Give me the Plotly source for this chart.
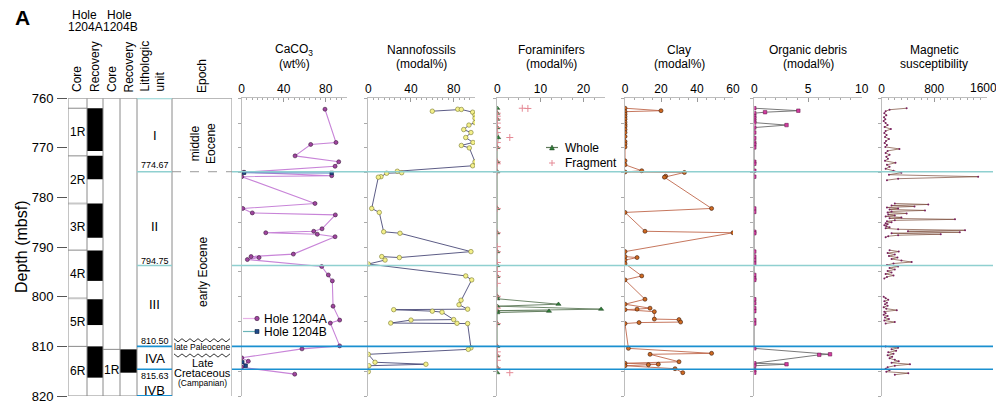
import plotly.graph_objects as go

W, H = 1004, 409
YTOP_PX, YBOT_PX = 98.3, 396.0

def px(x):
    return x / W

def py(y):
    return 1 - y / H

# ---------------- data ----------------
depth_range = [820, 760]

# Core / recovery (Hole 1204A)
core_a_names = ["1R", "2R", "3R", "4R", "5R", "6R"]
core_a_top = [762.0, 771.6, 781.2, 790.6, 800.3, 810.0]
core_a_bot = [771.6, 781.2, 790.6, 800.3, 810.0, 820.0]
rec_a_top = [762.0, 771.6, 781.2, 790.7, 800.5, 810.0]
rec_a_bot = [770.6, 776.3, 788.1, 796.8, 805.7, 816.3]
# Hole 1204B
core_b_names = ["1R"]
core_b_top = [810.6]
core_b_bot = [820.0]
rec_b_top = [810.6]
rec_b_bot = [815.3]

# Lithologic units
unit_names = ["I", "II", "III", "IVA", "IVB"]
unit_label_depth = [767.4, 785.9, 801.5, 812.4, 818.8]
boundary_labels = ["774.67", "794.75", "810.50", "815.63"]
boundary_depth = [774.8, 793.7, 810.0, 814.6]
boundary_label_depth = [773.5, 792.7, 808.9, 815.9]
boundary_colors = ["#8fd0d0", "#8fd0d0", "#1a90d0", "#1a90d0"]

# CaCO3 (wt%)
caco3_a_depth = [762.2, 768.9, 769.3, 771.6, 772.8, 773.7, 774.9, 775.6, 775.8, 781.2,
                 782.2, 783.1, 783.5, 786.3, 786.8, 787.1, 787.4, 787.9, 791.4, 791.9,
                 792.1, 792.5, 793.9, 795.6, 796.8, 801.9, 804.7, 805.3, 809.9, 810.5,
                 812.3, 813.0, 814.2, 815.6]
caco3_a_val = [79.3, 89.8, 65.7, 50.8, 92.4, 88.9, 2.2, 85.7, 0.0, 69.8,
               1.0, 10.1, 89.2, 76.5, 68.6, 22.9, 72.0, 88.9, 49.2, 8.9,
               16.5, 5.4, 76.2, 82.5, 86.3, 87.0, 93.3, 84.4, 93.3, 57.4,
               0.0, 6.3, 0.0, 50.5]
caco3_b_depth = [775.0, 775.05, None, 813.2, 813.9]
caco3_b_val = [2.2, 85.7, None, 0.6, 3.8]

# Nannofossils (modal%)
nanno_depth = [762.6, 762.2, 762.25, 762.8, 763.4, 764.0, 764.9, 765.4, 766.3, 766.9,
               767.9, 768.9, 769.5, 770.0, 772.8, 773.6, 774.7, 775.0, 775.1, 775.8,
               775.9, 782.2, 783.0, 786.9, 787.2, 790.9, 792.1, 791.9, 792.6, 793.4,
               795.8, 796.6, 800.7, 801.6, 802.5, 802.6, 802.9, 803.1, 804.6, 804.7,
               805.3, 805.35, 805.4, 810.3, 810.6, 811.6, 813.2, 813.6, 813.9, 815.1]
nanno_val = [60.0, 83.8, 87.2, 97.8, 100.0, 100.0, 100.0, 94.3, 89.4, 96.2,
             91.3, 98.1, 87.2, 94.7, 100.0, 97.8, 27.2, 31.3, 17.2, 11.9,
             9.4, 3.2, 10.3, 14.4, 29.7, 96.2, 29.1, 12.6, 15.7, 0.0,
             91.3, 96.9, 86.9, 85.0, 93.1, 23.8, 60.0, 69.1, 80.0, 40.0,
             21.0, 83.1, 93.1, 96.2, 93.7, 0.0, 6.3, 54.0, 0.6, 0.0]

# Foraminifers (modal%)
foram_whole_depth = [762.0, 763.0, 764.2, 765.9, 767.9, 769.9, 772.8, 774.8, 782.2, 787.1,
                     790.9, 793.7, 795.9, 799.9, 800.4, 801.5, 801.9, 802.5, 802.8, 802.9,
                     803.2, 805.4, 810.0, 811.9, 814.3, 815.3]
foram_whole_val = [0.0, 0.0, 0.0, 0.0, 0.2, 0.0, 0.0, 0.0, 0.0, 0.0,
                   0.0, 0.0, 0.0, 0.0, 0.0, 14.2, 0.0, 24.1, 0.0, 12.0,
                   0.0, 0.0, 0.0, 0.0, 0.0, 0.0]
foram_frag_depth = [762.0, 762.05, 763.0, 763.6, 764.2, 765.0, 765.9, 766.9, 767.9, 768.9,
                    769.9, 772.8, 773.2, 774.8, 782.2, 787.1, 789.9, 790.9, 793.1, 793.7,
                    794.9, 795.9, 797.3, 799.9, 802.3, 805.4, 810.0, 811.1, 811.9, 812.8,
                    814.3, 815.3]
foram_frag_val = [5.8, 7.1, 0.0, 0.0, 0.0, 0.0, 0.0, 0.0, 2.9, 0.0,
                  0.0, 0.0, 0.0, 0.0, 0.0, 0.0, 0.0, 0.0, 0.0, 0.0,
                  0.0, 0.0, 0.0, 0.0, 0.0, 0.0, 0.0, 0.0, 0.0, 0.0,
                  0.0, 2.9]

# Clay (modal%)
clay_depth = [762.0, 762.5, 762.7, 763.2, 763.7, 764.2, 764.8, 765.3, 765.7, 766.3,
              766.9, 767.7, 768.7, 769.2, 769.8, 772.6, 773.4, 774.6, 774.85, 774.95,
              775.7, 775.9, 782.2, 783.0, 786.8, 787.1, 790.9, 791.9, 792.1, 792.6,
              793.3, 795.8, 796.6, 800.5, 801.5, 802.3, 802.5, 802.6, 803.0, 804.5,
              804.6, 805.1, 805.2, 805.4, 810.4, 811.4, 811.6, 813.1, 813.4, 813.6,
              813.7, 813.9, 814.5, 815.3]
clay_val = [0.0, 20.0, 0.0, 0.0, 0.0, 0.0, 0.0, 0.0, 0.0, 0.0,
            0.0, 0.0, 0.0, 0.0, 0.0, 0.0, 0.0, 9.3, 0.0, 33.0,
            22.6, 21.9, 48.1, 0.0, 11.1, 60.0, 0.0, 0.0, 6.7, 0.0,
            0.0, 9.3, 0.0, 11.1, 0.0, 13.9, 6.7, 0.0, 16.3, 16.3,
            30.0, 30.9, 7.8, 0.0, 1.9, 48.1, 13.9, 30.0, 0.0, 18.5,
            13.0, 0.0, 27.8, 32.1]

# Organic debris (modal%)
org_depth = [762.0, 762.5, 762.8, 763.0, 763.6, 764.0, 764.5, 764.9, 765.4, 765.9,
             766.9, 768.0, 768.9, 769.3, 769.9, 772.8, 773.2, 774.6, 775.8, 782.2,
             782.9, 786.9, 787.2, 790.9, 791.9, 792.6, 793.3, 795.6, 796.3, 796.6,
             800.5, 801.3, 802.3, 802.9, 804.7, 805.4, 810.4, 811.6, 811.7, 813.4,
             813.6, 813.9, 814.8, 815.3]
org_val = [0.0, 4.1, 1.0, 0.0, 0.0, 0.0, 0.0, 0.0, 3.0, 0.0,
           0.0, 0.0, 0.0, 0.0, 0.0, 0.0, 0.0, 0.0, 0.0, 0.0,
           0.0, 0.0, 0.0, 0.0, 0.0, 0.0, 0.0, 0.0, 0.0, 0.0,
           0.0, 0.0, 0.0, 0.0, 0.0, 0.0, 0.0, 7.05, 6.05, 0.0,
           3.0, 0.0, 0.0, 0.0]

# Magnetic susceptibility
ms_depth = [762.0, 762.3, 762.6, 763.0, 763.4, 763.8, 764.2, 764.6, 765.0, 765.4,
            765.8, 766.2, 766.6, 767.0, 767.4, 767.8, 768.2, 768.6, 769.0, 769.4,
            769.8, 770.2, 770.6, 771.0, 771.4, 771.8, 772.2, 772.6, 773.0, 773.4,
            773.8, 774.2, 774.6, 775.0, 775.4, 775.8, 776.2, 776.5, None,
            781.2, 781.4, 781.6, 781.8, 782.0, 782.2, 782.4, 782.6, 782.8, 783.0,
            783.2, 783.4, 783.6, 783.8, 784.0, 784.2, 784.4, 784.6, 784.8, 785.0,
            785.2, 785.4, 785.6, 785.8, 786.0, 786.2, 786.4, 786.6, 786.8, 787.0,
            787.2, 787.4, 787.6, 787.8, 788.0, None,
            790.6, 790.9, 791.2, 791.5, 791.8, 792.1, 792.4, 792.7, 793.0, 793.3,
            793.6, 793.9, 794.2, 794.5, 794.8, 795.1, 795.4, 795.7, 796.0, 796.3, None,
            800.0, 800.3, 800.6, 800.9, 801.2, 801.5, 801.8, 802.1, 802.4, 802.7,
            803.0, 803.3, 803.6, 803.9, 804.2, 804.5, 804.8, 805.1, 805.4, None,
            810.0, 810.3, 810.6, 810.9, 811.2, 811.5, 811.8, 812.1, 812.4, 812.7,
            813.0, 813.3, 813.6, 813.9, 814.2, 814.5, 814.8, 815.1, 815.4, 815.7]
ms_val = [380, 120, 60, 40, 70, 35, 55, 30, 60, 90,
          45, 140, 60, 40, 75, 50, 110, 65, 45, 80,
          55, 270, 90, 60, 120, 70, 95, 50, 210, 80,
          120, 60, 180, 300, 110, 1470, 250, 80, None,
          200, 710, 150, 500, 80, 250, 120, 660, 150, 90,
          380, 100, 200, 60, 300, 120, 1117, 200, 80, 150,
          60, 90, 40, 70, 120, 60, 250, 1270, 400, 1190,
          150, 900, 250, 100, 60, None,
          120, 260, 90, 200, 110, 240, 150, 300, 457, 180,
          80, 250, 120, 200, 90, 150, 60, 180, 80, 40, None,
          30, 60, 100, 40, 80, 50, 90, 30, 70, 230,
          40, 60, 30, 90, 50, 110, 40, 200, 60, None,
          60, 250, 150, 220, 100, 180, 90, 160, 120, 200,
          260, 150, 431, 200, 90, 60, 120, 70, 406, 200]

# Panel setup
panel_title1 = ["CaCO<sub>3</sub>", "Nannofossils", "Foraminifers", "Clay", "Organic debris", "Magnetic"]
panel_title2 = ["(wt%)", "(modal%)", "(modal%)", "(modal%)", "(modal%)", "susceptibility"]
panel_left = [241.7, 368.3, 497.3, 625.0, 754.3, 881.7]
panel_right = [346.7, 475.0, 605.0, 733.0, 861.7, 986.7]
panel_range = [[0, 100], [0, 100], [0, 25], [0, 60], [0, 10], [0, 1600]]
panel_tickvals = [[0, 40, 80], [0, 40, 80], [0, 10, 20], [0, 20, 40, 60], [0, 5, 10], [0, 800, 1600]]
panel_ticktext = [["0", "40", "80"], ["0", "40", "80"], ["0", "10", "20"], ["0", "20", "40", "60"],
                  ["0", "5", "10"], ["0", "800", ""]]
last_label = "1600"
panel_minor = [5, 5, 2.5, 5, 1, 100]

FONT = "Liberation Sans, Arial, sans-serif"
fig = go.Figure()

ydom = [py(YBOT_PX), py(YTOP_PX)]

layout = dict(
    autosize=True, margin=dict(l=0, r=0, t=0, b=0, autoexpand=False),
    paper_bgcolor="white", plot_bgcolor="rgba(0,0,0,0)",
    font=dict(family=FONT, size=12, color="black"),
    showlegend=False,
)

layout["xaxis"] = dict(domain=[px(68), px(232)], range=[68, 232], visible=False, fixedrange=True)
layout["yaxis"] = dict(domain=ydom, range=depth_range, anchor="x", showline=False, showgrid=False,
                       zeroline=False, ticks="outside", ticklen=10, tickcolor="#555", dtick=10,
                       tick0=760, tickfont=dict(size=13), ticklabelstandoff=1)

for i in range(6):
    n = i + 2
    layout[f"xaxis{n}"] = dict(domain=[px(panel_left[i]), px(panel_right[i])], range=panel_range[i],
                               side="top", anchor=f"y{n}", showline=True, linecolor="#bdbdbd",
                               linewidth=1, ticks="inside", ticklen=4, tickcolor="#999",
                               tickmode="array", tickvals=panel_tickvals[i], ticktext=panel_ticktext[i],
                               showgrid=False, zeroline=False,
                               tickfont=dict(size=12), ticklabeloverflow="allow",
                               minor=dict(ticks="inside", ticklen=2, dtick=panel_minor[i], tick0=0,
                                          tickcolor="#aaa"))
    layout[f"yaxis{n}"] = dict(domain=ydom, range=depth_range, anchor=f"x{n}", showline=True,
                               linecolor="#bdbdbd", linewidth=1, ticks="outside", ticklen=3,
                               tickcolor="#aaa", dtick=5, tick0=760, showticklabels=False,
                               showgrid=False, zeroline=False)

fig.update_layout(**layout)

# ---------------- traces ----------------
C_A_LINE, C_A_MK, C_A_ED = "#c884d8", "#a045a0", "#3a1a3a"
C_B_LINE, C_B_MK, C_B_ED = "#4a78c0", "#1f4a8a", "#102040"
C_W_LINE, C_W_MK = "#5f7a5a", "#2f7f3a"
C_F = "#e58a96"

fig.add_trace(go.Scatter(x=caco3_a_val, y=caco3_a_depth, xaxis="x2", yaxis="y2", mode="lines+markers",
                         name="Hole 1204A", line=dict(color=C_A_LINE, width=1.1),
                         marker=dict(symbol="circle", size=4, color=C_A_MK,
                                     line=dict(color=C_A_ED, width=0.6))))
fig.add_trace(go.Scatter(x=caco3_b_val, y=caco3_b_depth, xaxis="x2", yaxis="y2", mode="lines+markers",
                         name="Hole 1204B", line=dict(color=C_B_LINE, width=1.1), connectgaps=False,
                         marker=dict(symbol="square", size=3.5, color=C_B_MK,
                                     line=dict(color=C_B_ED, width=0.6))))

fig.add_trace(go.Scatter(x=nanno_val, y=nanno_depth, xaxis="x3", yaxis="y3", mode="lines+markers",
                         line=dict(color="#4a4a78", width=0.9),
                         marker=dict(symbol="circle", size=4.5, color="#f4f08a",
                                     line=dict(color="#7a7a30", width=0.6))))

fig.add_trace(go.Scatter(x=foram_whole_val, y=foram_whole_depth, xaxis="x4", yaxis="y4",
                         mode="lines+markers", name="Whole", line=dict(color=C_W_LINE, width=0.9),
                         marker=dict(symbol="triangle-up", size=4.5, color=C_W_MK,
                                     line=dict(color="#1a3a1a", width=0.5))))
fig.add_trace(go.Scatter(x=foram_frag_val, y=foram_frag_depth, xaxis="x4", yaxis="y4",
                         mode="markers", name="Fragment",
                         marker=dict(symbol="cross-thin", size=5, color=C_F,
                                     line=dict(color=C_F, width=1))))

fig.add_trace(go.Scatter(x=clay_val, y=clay_depth, xaxis="x5", yaxis="y5", mode="lines+markers",
                         line=dict(color="#c0684c", width=0.9),
                         marker=dict(symbol="circle", size=4, color="#cf6a22",
                                     line=dict(color="#3a1a0a", width=0.6))))

fig.add_trace(go.Scatter(x=org_val, y=org_depth, xaxis="x6", yaxis="y6", mode="lines+markers",
                         line=dict(color="#6a6a6a", width=0.9),
                         marker=dict(symbol="square", size=3.5, color="#d23ca0",
                                     line=dict(color="#5a1040", width=0.5))))

fig.add_trace(go.Scatter(x=ms_val, y=ms_depth, xaxis="x7", yaxis="y7", mode="lines+markers",
                         connectgaps=False, line=dict(color="#7a4a38", width=0.7),
                         marker=dict(symbol="circle", size=2, color="#7a2060")))

# ---------------- shapes ----------------
shapes = []
col_x = [68, 87, 103, 120, 137, 172, 232]
GRAY = "#8a8a8a"

for t in core_a_top:
    light = t in (781.2, 800.3)
    shapes.append(dict(type="line", xref="x", yref="y", x0=68, x1=87, y0=t, y1=t,
                       line=dict(color="#c8c8c8" if light else GRAY, width=2 if light else 1)))
for t in core_b_top:
    shapes.append(dict(type="line", xref="x", yref="y", x0=103, x1=120, y0=t, y1=t,
                       line=dict(color=GRAY, width=1)))
for t, b in zip(rec_a_top, rec_a_bot):
    shapes.append(dict(type="rect", xref="x", yref="y", x0=87, x1=103, y0=t, y1=b,
                       fillcolor="black", line=dict(width=0)))
for t, b in zip(rec_b_top, rec_b_bot):
    shapes.append(dict(type="rect", xref="x", yref="y", x0=120, x1=137, y0=t, y1=b,
                       fillcolor="black", line=dict(width=0)))
for x in col_x:
    shapes.append(dict(type="line", xref="x", yref="y", x0=x, x1=x, y0=760, y1=820,
                       line=dict(color=GRAY, width=1)))
shapes.append(dict(type="line", xref="x", yref="y", x0=68, x1=137, y0=760, y1=760, line=dict(color=GRAY, width=1)))
shapes.append(dict(type="line", xref="x", yref="y", x0=172, x1=232, y0=760, y1=760, line=dict(color=GRAY, width=1)))
shapes.append(dict(type="line", xref="x", yref="y", x0=137, x1=172, y0=760, y1=760, line=dict(color="#8fd0d0", width=2)))
shapes.append(dict(type="line", xref="x", yref="y", x0=68, x1=137, y0=820, y1=820, line=dict(color=GRAY, width=1)))
shapes.append(dict(type="line", xref="x", yref="y", x0=137, x1=172, y0=820, y1=820, line=dict(color="#1a90d0", width=2)))

for d, c in zip(boundary_depth, boundary_colors):
    shapes.append(dict(type="line", xref="x", yref="y", x0=137, x1=172, y0=d, y1=d, line=dict(color=c, width=1.6)))
    shapes.append(dict(type="line", xref="paper", yref="y", x0=px(232), x1=px(993), y0=d, y1=d,
                       line=dict(color=c, width=1.6)))
shapes.append(dict(type="line", xref="x", yref="y", x0=172, x1=232, y0=boundary_depth[0], y1=boundary_depth[0],
                   line=dict(color="#999", width=1, dash="dash")))

def zigzag(y_px, x0=174, x1=230, n=14, amp=1.6):
    step = (x1 - x0) / n
    pts = []
    for k in range(n + 1):
        xx = x0 + k * step
        yy = y_px + (amp if k % 2 else -amp)
        pts.append(f"{px(xx):.5f},{py(yy):.5f}")
    return "M " + " L ".join(pts)
for ypx in (340.3, 355.5):
    shapes.append(dict(type="path", xref="paper", yref="paper", path=zigzag(ypx),
                       line=dict(color="#333", width=1)))

# manual legend symbols (paper coords)
def leg_line(x0, x1, y, color):
    shapes.append(dict(type="line", xref="paper", yref="paper", x0=px(x0), x1=px(x1), y0=py(y), y1=py(y),
                       line=dict(color=color, width=1.2)))
def leg_circle(x, y, r, fill, edge):
    shapes.append(dict(type="circle", xref="paper", yref="paper", x0=px(x - r), x1=px(x + r),
                       y0=py(y + r), y1=py(y - r), fillcolor=fill, line=dict(color=edge, width=0.6)))
def leg_square(x, y, r, fill, edge):
    shapes.append(dict(type="rect", xref="paper", yref="paper", x0=px(x - r), x1=px(x + r),
                       y0=py(y + r), y1=py(y - r), fillcolor=fill, line=dict(color=edge, width=0.6)))
def leg_triangle(x, y, r, fill):
    path = f"M {px(x - r):.5f},{py(y + r):.5f} L {px(x + r):.5f},{py(y + r):.5f} L {px(x):.5f},{py(y - r):.5f} Z"
    shapes.append(dict(type="path", xref="paper", yref="paper", path=path, fillcolor=fill,
                       line=dict(color="#1a3a1a", width=0.5)))
def leg_plus(x, y, r, color):
    shapes.append(dict(type="line", xref="paper", yref="paper", x0=px(x - r), x1=px(x + r), y0=py(y), y1=py(y),
                       line=dict(color=color, width=1)))
    shapes.append(dict(type="line", xref="paper", yref="paper", x0=px(x), x1=px(x), y0=py(y - r), y1=py(y + r),
                       line=dict(color=color, width=1)))

leg_line(243, 257, 318.5, "#e8b0e8")
leg_circle(257, 318.5, 2.2, C_A_MK, C_A_ED)
leg_line(243, 257, 331.5, "#6ab4b8")
leg_square(257, 331.5, 2.0, C_B_MK, C_B_ED)
leg_line(546, 558, 147.5, C_W_LINE)
leg_triangle(552, 147.5, 2.4, C_W_MK)
leg_plus(552, 163, 3, C_F)

fig.update_layout(shapes=shapes)

# ---------------- annotations ----------------
ann = []
def A(text, x, y, size=12, xref="paper", yref="paper", angle=0, **kw):
    d = dict(text=text, x=x, y=y, xref=xref, yref=yref, showarrow=False, textangle=angle,
             font=dict(size=size, family=FONT, color="black"), xanchor="center", yanchor="middle")
    d.update(kw)
    ann.append(d)

A("<b>A</b>", px(22), py(17), size=21)
A("Hole", px(84), py(15), size=12)
A("1204A", px(85), py(27), size=12)
A("Hole", px(119.5), py(15), size=12)
A("1204B", px(120), py(27), size=12)
A("Core", px(77), py(79), size=12, angle=-90)
A("Recovery", px(95), py(67), size=12, angle=-90)
A("Core", px(112), py(79), size=12, angle=-90)
A("Recovery", px(128.5), py(67), size=12, angle=-90)
A("Lithologic<br>unit", px(152.5), py(66), size=12, angle=-90, align="left")
A("Epoch", px(202), py(76), size=12, angle=-90)
A("Depth (mbsf)", px(22), py(247), size=16, angle=-90)

# last tick label of the magnetic-susceptibility axis, kept inside the page
A(last_label, px(999), py(88), size=12, xanchor="right")

A("Hole 1204A", px(262), py(318.5), size=12, xanchor="left")
A("Hole 1204B", px(262), py(331.5), size=12, xanchor="left")
A("Whole", px(563), py(147.5), size=12, xanchor="left")
A("Fragment", px(563), py(163), size=12, xanchor="left")

for nm, t, b in zip(core_a_names, core_a_top, core_a_bot):
    A(nm, 77.5, (t + b) / 2, size=12, xref="x", yref="y")
for nm, t, b in zip(core_b_names, core_b_top, core_b_bot):
    A(nm, 111.5, (t + b) / 2 - 0.6, size=12, xref="x", yref="y")
for nm, d in zip(unit_names, unit_label_depth):
    A(nm, 154.5, d, size=13, xref="x", yref="y")
for lb, d in zip(boundary_labels, boundary_label_depth):
    A(lb, 154.5, d, size=9, xref="x", yref="y")

A("middle<br>Eocene", 203, 769.2, size=12, xref="x", yref="y", angle=-90)
A("early Eocene", 203, 795.0, size=12, xref="x", yref="y", angle=-90)
A("late Paleocene", 202, 810.2, size=8.5, xref="x", yref="y")
A("Late", 202, 813.3, size=11, xref="x", yref="y")
A("Cretaceous", 202, 815.3, size=11, xref="x", yref="y")
A("(Campanian)", 202, 817.4, size=8.5, xref="x", yref="y")

for i in range(6):
    cx = px((panel_left[i] + panel_right[i]) / 2)
    A(panel_title1[i], cx, py(50), size=12)
    A(panel_title2[i], cx, py(64), size=12)

fig.update_layout(annotations=ann)

fig.write_html("out.html", config={"displayModeBar": False},
               default_width="1004px; margin:-8px", default_height="409px")
